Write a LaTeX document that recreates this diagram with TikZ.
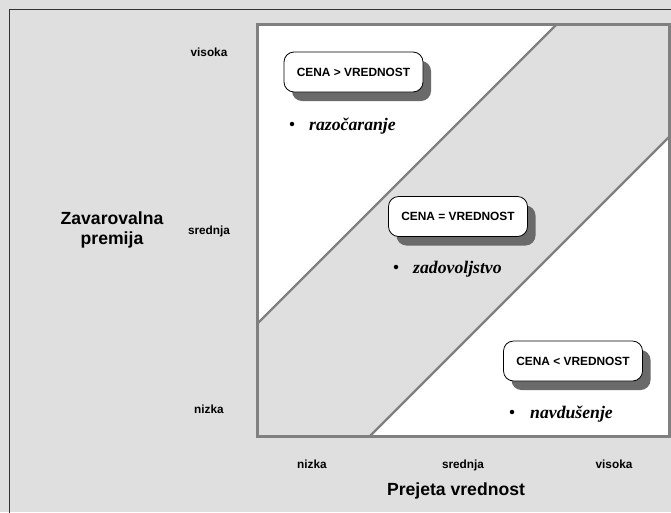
\documentclass[tikz,border=0pt]{standalone}
\usepackage{fontspec}
\setmainfont{Liberation Sans}
\newfontfamily\bulletserif{Liberation Serif}
\usetikzlibrary{shadows}
\definecolor{panelgray}{HTML}{DFDFDF}
\definecolor{framegray}{HTML}{808080}
\definecolor{shadowgray}{HTML}{6A6A6A}
\tikzset{
  statebox/.style={draw=black, line width=0.8pt, fill=white, rounded corners=10pt,
    minimum width=139pt, minimum height=40pt, inner sep=0pt,
    font=\fontsize{11.9}{13}\selectfont\bfseries,
    drop shadow={shadow xshift=8pt, shadow yshift=-9pt, fill=shadowgray, opacity=1}},
  ticklabel/.style={font=\fontsize{11.8}{13}\selectfont\bfseries, inner sep=0pt, anchor=base},
  axistitle/.style={font=\fontsize{17.6}{20}\selectfont\bfseries, align=center, inner sep=0pt},
  feeling/.style={font=\bulletserif\fontsize{17.7}{20}\selectfont\bfseries\itshape, anchor=west, inner sep=0pt},
  bulletdot/.style={circle, fill=black, inner sep=0pt, minimum size=4.5pt}
}
\begin{document}
\begin{tikzpicture}[x=1pt, y=-1pt]
  \useasboundingbox (0,0) rectangle (671,512);
  % background panel
  \fill[panelgray] (0,0) rectangle (671,512);
  \draw[black!80, line width=1pt] (9.5,515) -- (9.5,9.5) -- (675,9.5);
  % plot area: white triangles around the grey diagonal band
  \fill[white] (257,24) -- (557,24) -- (257,324) -- cycle;
  \fill[white] (669,137) -- (669,436) -- (370,436) -- cycle;
  \draw[framegray, line width=2.2pt] (557,24) -- (257,324);
  \draw[framegray, line width=2.2pt] (669,137) -- (370,436);
  \draw[framegray, line width=3pt] (257,24) rectangle (669,436);

  % state boxes
  \node[statebox] (gt) at (353.5,72) {CENA > VREDNOST};
  \node[statebox] (eq) at (458,216.5) {CENA = VREDNOST};
  \node[statebox] (lt) at (573,361) {CENA < VREDNOST};

  % bullet items
  \node[bulletdot] (b1) at (292,124) {};
  \node[feeling] (f1) at (309,126) {razočaranje};
  \node[bulletdot] (b2) at (396,267) {};
  \node[feeling] (f2) at (413,269) {zadovoljstvo};
  \node[bulletdot] (b3) at (512,412) {};
  \node[feeling] (f3) at (530,414) {navdušenje};

  % axis ticks
  \node[ticklabel] (yh) at (209,56) {visoka};
  \node[ticklabel] (ym) at (209,234) {srednja};
  \node[ticklabel] (yl) at (209,413) {nizka};
  \node[ticklabel] (xl) at (312,468) {nizka};
  \node[ticklabel] (xm) at (463,468) {srednja};
  \node[ticklabel] (xh) at (614,468) {visoka};

  % axis titles
  \node[axistitle] (ytitle) at (112,230) {Zavarovalna\\premija};
  \node[axistitle] (xtitle) at (456,491) {Prejeta vrednost};
\end{tikzpicture}
\end{document}
